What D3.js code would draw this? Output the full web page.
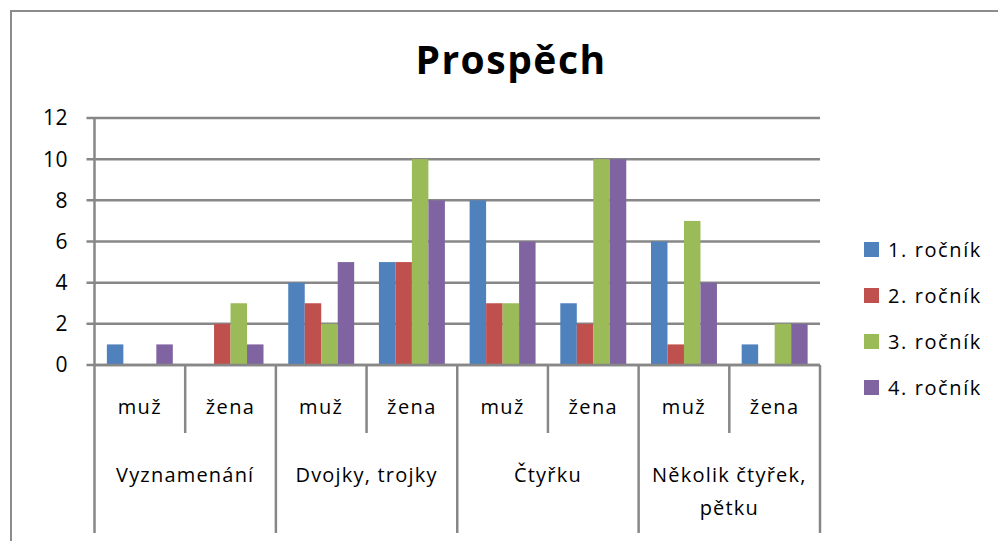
<!DOCTYPE html>
<html>
<head>
<meta charset="utf-8">
<script src="https://cdn.jsdelivr.net/npm/d3@7"></script>
<style>
  body { margin: 0; background: #fff; }
  text { font-family: "Open Sans", sans-serif; fill: #000; }
</style>
</head>
<body>
<svg id="chart" width="998" height="541"></svg>
<script>
const groups = ["Vyznamenání", "Dvojky, trojky", "Čtyřku", "Několik čtyřek, pětku"];
const genders = ["muž", "žena"];
const seriesNames = ["1. ročník", "2. ročník", "3. ročník", "4. ročník"];
const colors = ["#4F81BD", "#C0504D", "#9BBB59", "#8064A2"];

// one row per series, 8 values: group x gender
const rocnik1 = [1, 0, 4, 5, 8, 3, 6, 1];
const rocnik2 = [0, 2, 3, 5, 3, 2, 1, 0];
const rocnik3 = [0, 3, 2, 10, 3, 10, 7, 2];
const rocnik4 = [1, 1, 5, 8, 6, 10, 4, 2];
const yTicks = [0, 2, 4, 6, 8, 10, 12];

const series = [rocnik1, rocnik2, rocnik3, rocnik4];
const subcats = [];
groups.forEach(g => genders.forEach(s => subcats.push(g + "|" + s)));

const svg = d3.select("#chart");
const gridColor = "#878787";

// outer frame
svg.append("rect")
   .attr("x", 11).attr("y", 11)
   .attr("width", 1100).attr("height", 600)
   .attr("fill", "none")
   .attr("stroke", "#8c8c8c")
   .attr("stroke-width", 2);

const plotLeft = 94.5, plotRight = 820, plotTop = 118, plotBottom = 365;

const x = d3.scaleBand().domain(subcats).range([plotLeft, plotRight]).paddingInner(0).paddingOuter(0);
const xInner = d3.scaleBand().domain(d3.range(4)).range([0, x.bandwidth()]).paddingInner(0).paddingOuter(0.75);
const y = d3.scaleLinear().domain([0, 12]).range([plotBottom, plotTop]);

// title
svg.append("text")
   .attr("x", 511).attr("y", 74)
   .attr("text-anchor", "middle")
   .style("font-size", "39px")
   .style("font-weight", "bold")
   .style("letter-spacing", "1.5px")
   .text("Prospěch");

// gridlines
svg.append("g")
   .selectAll("line")
   .data(yTicks)
   .join("line")
   .attr("x1", plotLeft - 8).attr("x2", plotRight)
   .attr("y1", d => y(d)).attr("y2", d => y(d))
   .attr("stroke", gridColor)
   .attr("stroke-width", 2.5);

// y labels
svg.append("g")
   .selectAll("text")
   .data(yTicks)
   .join("text")
   .attr("x", 68).attr("y", d => y(d))
   .attr("dy", "0.35em")
   .attr("text-anchor", "end")
   .style("font-size", "21px")
   .style("letter-spacing", "0.5px")
   .text(d => d);

// y axis
svg.append("line")
   .attr("x1", plotLeft).attr("x2", plotLeft)
   .attr("y1", plotTop).attr("y2", 533)
   .attr("stroke", gridColor).attr("stroke-width", 2.5);

// bars
const barG = svg.append("g");
series.forEach((vals, si) => {
    barG.append("g")
        .selectAll("rect")
        .data(vals)
        .join("rect")
        .attr("x", (d, i) => x(subcats[i]) + xInner(si))
        .attr("width", xInner.bandwidth())
        .attr("y", d => y(d))
        .attr("height", d => y(0) - y(d))
        .attr("fill", colors[si]);
});

// x axis baseline
svg.append("line")
   .attr("x1", plotLeft).attr("x2", plotRight)
   .attr("y1", plotBottom).attr("y2", plotBottom)
   .attr("stroke", gridColor).attr("stroke-width", 2.5);

// tick separators
const step = x.step();
d3.range(1, 9).forEach(k => {
    const xx = plotLeft + k * step;
    svg.append("line")
       .attr("x1", xx).attr("x2", xx)
       .attr("y1", plotBottom).attr("y2", k % 2 === 0 ? 533 : 433)
       .attr("stroke", gridColor).attr("stroke-width", 2.5);
});

// gender labels
svg.append("g")
   .selectAll("text")
   .data(subcats)
   .join("text")
   .attr("x", d => x(d) + x.bandwidth() / 2)
   .attr("y", 414)
   .attr("text-anchor", "middle")
   .style("font-size", "20px")
   .style("letter-spacing", "1.4px")
   .text(d => d.split("|")[1]);

// group labels
const groupLines = [["Vyznamenání"], ["Dvojky, trojky"], ["Čtyřku"], ["Několik čtyřek,", "pětku"]];
groups.forEach((g, gi) => {
    const cx = x(g + "|" + genders[0]) + step;
    const t = svg.append("text")
        .attr("text-anchor", "middle")
        .style("font-size", "20px")
        .style("letter-spacing", "1.2px");
    groupLines[gi].forEach((ln, li) => {
        t.append("tspan").attr("x", cx).attr("y", 482 + li * 33).text(ln);
    });
});

// legend
const legend = svg.append("g");
seriesNames.forEach((name, i) => {
    const ly = 250 + i * 46;
    legend.append("rect")
          .attr("x", 864).attr("y", ly - 8)
          .attr("width", 15).attr("height", 15)
          .attr("fill", colors[i]);
    legend.append("text")
          .attr("x", 888).attr("y", ly)
          .attr("dy", "0.35em")
          .style("font-size", "20px")
          .style("letter-spacing", "1.6px")
          .text(name);
});
</script>
</body>
</html>
